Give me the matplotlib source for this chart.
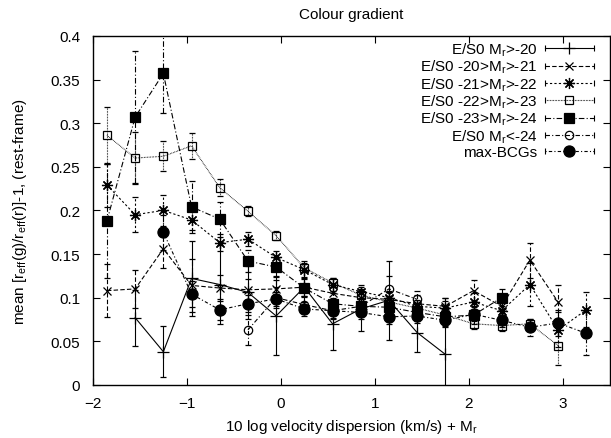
import matplotlib
matplotlib.use("Agg")
import matplotlib.pyplot as plt
from matplotlib.lines import Line2D
from matplotlib.legend_handler import HandlerBase

plt.rcParams['font.family'] = ['Liberation Sans', 'DejaVu Sans']
plt.rcParams['mathtext.fontset'] = 'custom'
plt.rcParams['mathtext.rm'] = 'Liberation Sans'
plt.rcParams['mathtext.it'] = 'Liberation Sans:italic'

# ---- data ----
x1 = [-1.55, -1.25, -0.95, -0.65, -0.35, -0.05, 0.25, 0.55, 0.85, 1.15, 1.45, 1.75]
y1 = [0.077, 0.038, 0.122, 0.115, 0.106, 0.079, 0.112, 0.070, 0.087, 0.097, 0.060, 0.035]
e1 = [0.032, 0.029, 0.043, 0.045, 0.030, 0.045, 0.030, 0.030, 0.025, 0.045, 0.022, 0.065]

x2 = [-1.85, -1.55, -1.25, -0.95, -0.65, -0.35, -0.05, 0.25, 0.55, 0.85, 1.15, 1.45, 1.75, 2.05, 2.35, 2.65, 2.95]
y2 = [0.108, 0.110, 0.156, 0.114, 0.111, 0.109, 0.110, 0.112, 0.105, 0.100, 0.098, 0.093, 0.090, 0.108, 0.090, 0.143, 0.095]
e2 = [0.030, 0.022, 0.022, 0.030, 0.015, 0.012, 0.010, 0.010, 0.010, 0.010, 0.010, 0.010, 0.010, 0.012, 0.012, 0.020, 0.020]

x3 = [-1.85, -1.55, -1.25, -0.95, -0.65, -0.35, -0.05, 0.25, 0.55, 0.85, 1.15, 1.45, 1.75, 2.05, 2.35, 2.65, 2.95, 3.25]
y3 = [0.229, 0.195, 0.200, 0.189, 0.163, 0.167, 0.146, 0.132, 0.115, 0.107, 0.100, 0.090, 0.088, 0.095, 0.085, 0.115, 0.063, 0.086]
e3 = [0.025, 0.020, 0.018, 0.012, 0.010, 0.008, 0.008, 0.008, 0.007, 0.007, 0.007, 0.007, 0.008, 0.010, 0.010, 0.025, 0.020, 0.020]

x4 = [-1.85, -1.55, -1.25, -0.95, -0.65, -0.35, -0.05, 0.25, 0.55, 0.85, 1.15, 1.45, 1.75, 2.05, 2.35, 2.65, 2.95]
y4 = [0.286, 0.260, 0.262, 0.274, 0.226, 0.199, 0.171, 0.134, 0.117, 0.103, 0.095, 0.088, 0.080, 0.070, 0.068, 0.070, 0.045]
e4 = [0.033, 0.030, 0.017, 0.015, 0.010, 0.006, 0.005, 0.005, 0.005, 0.005, 0.005, 0.005, 0.006, 0.006, 0.006, 0.006, 0.022]

x5 = [-1.85, -1.55, -1.25, -0.95, -0.65, -0.35, -0.05, 0.25, 0.55, 0.85, 1.15, 1.45, 1.75, 2.05, 2.35]
y5 = [0.188, 0.307, 0.357, 0.204, 0.190, 0.142, 0.135, 0.111, 0.093, 0.090, 0.089, 0.083, 0.078, 0.080, 0.100]
e5 = [0.065, 0.076, 0.045, 0.030, 0.020, 0.013, 0.010, 0.010, 0.012, 0.010, 0.010, 0.010, 0.010, 0.010, 0.010]

x6 = [-0.35, -0.05, 0.25, 0.55, 0.85, 1.15, 1.45]
y6 = [0.063, 0.100, 0.092, 0.085, 0.090, 0.110, 0.098]
e6 = [0.017, 0.012, 0.010, 0.010, 0.010, 0.015, 0.010]

x7 = [-1.25, -0.95, -0.65, -0.35, -0.05, 0.25, 0.55, 0.85, 1.15, 1.45, 1.75, 2.05, 2.35, 2.65, 2.95, 3.25]
y7 = [0.175, 0.104, 0.086, 0.093, 0.0985, 0.087, 0.085, 0.083, 0.078, 0.079, 0.074, 0.081, 0.074, 0.066, 0.071, 0.059]
e7 = [0.020, 0.015, 0.012, 0.010, 0.008, 0.008, 0.008, 0.008, 0.008, 0.008, 0.008, 0.008, 0.008, 0.010, 0.015, 0.025]

labels = [r'E/S0 M$_{\rm r}$>-20', r'E/S0 -20>M$_{\rm r}$>-21', r'E/S0 -21>M$_{\rm r}$>-22',
          r'E/S0 -22>M$_{\rm r}$>-23', r'E/S0 -23>M$_{\rm r}$>-24', r'E/S0 M$_{\rm r}$<-24', 'max-BCGs']

series = [(x1, y1, e1), (x2, y2, e2), (x3, y3, e3), (x4, y4, e4), (x5, y5, e5), (x6, y6, e6), (x7, y7, e7)]

styles = [
    dict(ls='-', marker='+', ms=8, mfc='k'),
    dict(ls=(0, (4, 2)), marker='x', ms=6, mfc='k'),
    dict(ls=(0, (2, 2)), marker=(8, 2, 0), ms=8, mfc='k'),
    dict(ls=(0, (0.6, 0.8)), marker='s', ms=6, mfc='none'),
    dict(ls=(0, (5, 2, 1, 2)), marker='s', ms=6.5, mfc='k'),
    dict(ls=(0, (4, 2, 1, 2)), marker='o', ms=6, mfc='none'),
    dict(ls=(0, (1, 2, 3, 2)), marker='o', ms=8, mfc='k'),
]


class HandlerErrKey(HandlerBase):
    """gnuplot-like key sample: horizontal line with end caps and a marker in the middle."""
    def create_artists(self, legend, orig_handle, xdescent, ydescent, width, height, fontsize, trans):
        y = height / 2.0 - ydescent
        x0, x1_ = -xdescent, width - xdescent
        line = Line2D([x0, x1_], [y, y], color='k', lw=0.8, ls=orig_handle.get_linestyle())
        line.set_dashes(orig_handle._unscaled_dash_pattern[1]) if orig_handle._unscaled_dash_pattern[1] else None
        caps = Line2D([x0, x1_], [y, y], ls='none', marker='|', ms=4, mew=0.8, color='k')
        mk = Line2D([(x0 + x1_) / 2.0], [y], ls='none', marker=orig_handle.get_marker(),
                    ms=orig_handle.get_markersize(), mfc=orig_handle.get_markerfacecolor(),
                    mec='k', mew=0.9)
        for a in (line, caps, mk):
            a.set_transform(trans)
        return [line, caps, mk]


fig = plt.figure(figsize=(6.11, 4.39), dpi=100)
ax = fig.add_axes([0.152, 0.121, 0.846, 0.795])

proxies = []
for (x, y, e), st, lab in zip(series, styles, labels):
    c = ax.errorbar(x, y, yerr=e, color='k', lw=0.8, elinewidth=0.8, capsize=2.5, capthick=0.8,
                    ls=st['ls'], marker=st['marker'], ms=st['ms'], mfc=st['mfc'], mec='k', mew=0.9)
    for bl in c[2]:
        bl.set_linestyle(st['ls'])
    proxies.append(Line2D([], [], color='k', ls=st['ls'], marker=st['marker'], ms=st['ms'],
                          mfc=st['mfc'], mec='k'))

ax.set_xlim(-2, 3.5)
ax.set_ylim(0, 0.4)
ax.set_xticks([-2, -1, 0, 1, 2, 3])
ax.set_yticks([0, 0.05, 0.1, 0.15, 0.2, 0.25, 0.3, 0.35, 0.4])
ax.set_yticklabels(['0', '0.05', '0.1', '0.15', '0.2', '0.25', '0.3', '0.35', '0.4'])
ax.tick_params(direction='in', top=True, right=True, labelsize=11, length=5, width=0.8)
ax.tick_params(axis='x', pad=8)
ax.tick_params(axis='y', pad=9)
for s in ax.spines.values():
    s.set_linewidth(1.0)

ax.set_title('Colour gradient', fontsize=11, pad=13)
ax.set_xlabel(r'10 log velocity dispersion (km/s) + M$_{\rm r}$', fontsize=11, labelpad=5)
ax.set_ylabel(r'mean [r$_{\rm eff}$(g)/r$_{\rm eff}$(r)]-1, (rest-frame)', fontsize=11, labelpad=16)

leg = ax.legend(proxies, labels, handler_map={Line2D: HandlerErrKey()},
                loc='upper right', bbox_to_anchor=(0.978, 1.0), frameon=False, markerfirst=False,
                fontsize=11, handlelength=3.2, labelspacing=0.0, handletextpad=0.5,
                borderaxespad=0.0, borderpad=0.3)

fig.savefig('out.png', dpi=100)
